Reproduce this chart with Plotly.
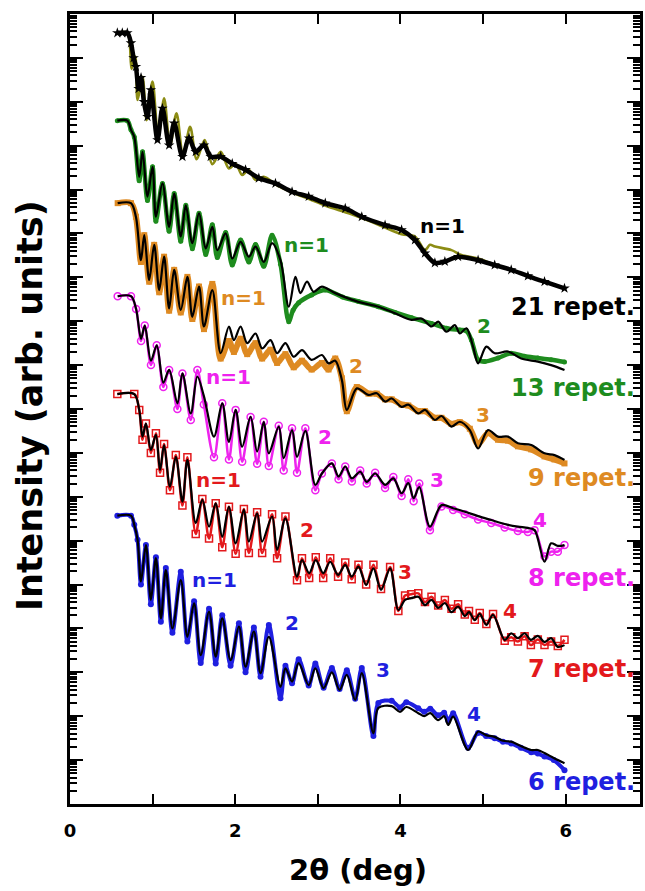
import numpy as np
import plotly.graph_objects as go

# ---- data (x in degrees 2theta, y as log10 of intensity, arbitrary offsets) ----
# 21 repetitions
r21_fit_x = [0.577,0.697,0.725,0.745,0.790,0.818,0.878,0.927,0.999,1.068,1.139,1.212,1.289,1.369,1.454,1.534,1.630,1.723,1.824,1.924,2.005,2.084,2.165,2.246,2.346,2.500,2.684,2.900,3.094,3.400,3.733,4.014,4.176,4.297,4.357,4.418,4.618,4.738,4.940,5.141,5.341,5.543,5.744,5.986]
r21_fit_y = [17.57,17.57,17.30,16.75,17.03,16.04,16.57,15.58,16.46,15.17,16.08,15.01,15.74,14.79,15.43,14.69,15.13,14.58,14.86,14.48,14.59,14.33,14.45,14.22,14.29,14.10,13.94,13.78,13.63,13.44,13.20,12.98,12.93,12.62,12.74,12.70,12.62,12.51,12.43,12.28,12.17,12.03,11.90,11.75]
r21_dat_x = [0.573,0.633,0.694,0.738,0.770,0.798,0.830,0.860,0.895,0.938,0.979,1.059,1.119,1.200,1.261,1.361,1.441,1.522,1.622,1.703,1.824,1.964,2.125,2.286,2.487,2.688,2.889,3.090,3.332,3.532,3.814,4.014,4.176,4.297,4.417,4.538,4.698,4.940,5.141,5.341,5.543,5.744,5.986]
r21_dat_y = [17.57,17.57,17.57,17.34,17.00,16.80,16.30,16.55,16.00,15.66,16.27,15.13,15.85,15.01,15.51,14.75,15.17,14.86,15.01,14.75,14.75,14.59,14.45,14.26,14.14,13.95,13.84,13.69,13.57,13.38,13.19,13.08,12.85,12.55,12.33,12.36,12.47,12.39,12.28,12.17,12.03,11.90,11.75]

# 13 repetitions
r13_fit_x = [0.573,0.694,0.738,0.778,0.838,0.878,0.938,0.999,1.040,1.119,1.200,1.261,1.341,1.402,1.481,1.562,1.643,1.723,1.783,1.884,1.964,2.065,2.165,2.246,2.346,2.446,2.548,2.648,2.729,2.789,2.869,2.949,3.049,3.211,3.492,3.733,3.935,4.135,4.256,4.376,4.457,4.557,4.659,4.719,4.799,4.879,4.940,5.040,5.141,5.302,5.462,5.663,5.824,5.986]
r13_fit_y = [15.57,15.57,15.36,15.20,14.29,14.86,13.84,14.52,13.38,14.14,13.15,13.91,12.93,13.64,12.78,13.46,12.66,13.15,12.62,13.00,12.43,12.81,12.47,12.70,12.35,12.78,12.39,11.33,12.01,11.64,11.90,11.67,11.79,11.64,11.44,11.33,11.18,11.03,11.06,10.88,10.99,10.76,10.91,10.72,10.84,10.42,10.04,10.42,10.27,10.31,10.15,10.08,10.00,9.89]
r13_dat_x = [0.573,0.694,0.738,0.778,0.838,0.878,0.938,0.999,1.040,1.119,1.200,1.261,1.341,1.402,1.481,1.562,1.643,1.723,1.783,1.884,1.964,2.065,2.165,2.246,2.346,2.446,2.548,2.648,2.700,2.768,2.925,3.090,3.300,3.492,3.733,3.935,4.135,4.376,4.557,4.719,4.799,4.859,4.940,5.020,5.181,5.341,5.500,5.663,5.824,5.986]
r13_dat_y = [15.57,15.57,15.36,15.20,14.20,14.86,13.75,14.52,13.28,14.14,13.05,13.91,12.82,13.64,12.65,13.46,12.52,13.20,12.45,13.02,12.28,12.85,12.35,12.75,12.25,12.96,12.30,10.99,11.25,11.42,11.60,11.71,11.55,11.45,11.33,11.20,11.08,10.95,10.84,10.80,10.78,10.57,10.12,10.08,10.16,10.27,10.20,10.16,10.12,10.07]

# 9 repetitions
r9_x = [0.577,0.738,0.798,0.859,0.899,0.959,1.019,1.080,1.139,1.200,1.261,1.341,1.421,1.481,1.562,1.622,1.723,1.824,1.924,1.984,2.065,2.145,2.246,2.326,2.427,2.507,2.608,2.708,2.808,2.925,3.049,3.130,3.211,3.291,3.351,3.472,3.613,3.713,3.814,3.894,4.014,4.095,4.216,4.297,4.417,4.497,4.618,4.719,4.840,4.940,5.060,5.181,5.302,5.422,5.583,5.744,5.865,5.986]
r9_fit_y = [13.69,13.69,13.38,12.39,12.96,11.94,12.74,11.71,12.47,11.29,12.17,11.26,12.01,11.10,11.79,10.88,11.71,10.27,10.88,10.57,10.88,10.50,10.72,10.38,10.57,10.27,10.50,10.19,10.34,10.12,10.23,10.04,10.10,9.66,8.98,9.47,9.32,9.36,9.17,9.24,9.05,9.10,8.90,8.98,8.75,8.84,8.60,8.71,8.52,8.10,8.52,8.37,8.37,8.22,8.18,7.99,7.95,7.84]
r9_dat_y = [13.69,13.69,13.38,12.35,12.96,11.90,12.74,11.66,12.47,11.24,12.17,11.20,12.01,11.05,11.79,10.82,11.85,10.15,10.55,10.30,10.60,10.25,10.50,10.15,10.35,10.05,10.25,9.95,10.10,9.90,10.05,9.90,10.15,9.70,8.95,9.50,9.35,9.35,9.22,9.22,9.10,9.08,8.95,8.95,8.80,8.80,8.66,8.70,8.55,8.20,8.45,8.30,8.28,8.15,8.08,7.92,7.85,7.76]

# 8 repetitions
r8_x = [0.577,0.738,0.800,0.860,0.905,0.980,1.050,1.130,1.200,1.300,1.361,1.462,1.542,1.620,1.743,1.843,1.924,2.005,2.084,2.186,2.265,2.346,2.407,2.527,2.587,2.688,2.748,2.849,2.970,3.049,3.170,3.251,3.332,3.412,3.513,3.592,3.694,3.814,3.914,4.014,4.095,4.160,4.228,4.357,4.497,4.638,4.779,4.940,5.100,5.262,5.422,5.543,5.624,5.744,5.824,5.905,5.986]
r8_fit_y = [11.57,11.57,11.28,10.60,10.90,10.10,10.45,9.60,9.89,9.13,9.81,8.90,9.74,9.30,8.37,9.13,8.25,8.98,8.14,8.82,8.03,8.71,7.99,8.60,7.88,8.52,7.91,8.50,7.27,7.53,7.76,7.46,7.69,7.42,7.57,7.34,7.53,7.27,7.42,7.08,7.31,6.97,7.22,6.32,6.81,6.74,6.66,6.56,6.47,6.38,6.32,6.29,6.24,5.52,5.94,5.88,5.90]
r8_dat_y = [11.57,11.57,11.28,10.55,10.90,10.00,10.45,9.50,9.89,9.00,9.81,8.75,9.89,9.10,7.90,9.13,7.85,8.98,7.80,8.82,7.75,8.71,7.70,8.62,7.60,8.56,7.55,8.56,7.15,7.53,7.76,7.40,7.69,7.35,7.60,7.30,7.55,7.20,7.45,7.02,7.40,6.90,7.30,6.24,6.78,6.70,6.60,6.48,6.40,6.30,6.22,6.20,6.24,5.64,5.75,5.75,5.90]

# 7 repetitions
r7_x = [0.573,0.778,0.838,0.878,0.919,0.979,1.040,1.090,1.139,1.210,1.281,1.361,1.421,1.522,1.602,1.683,1.764,1.843,1.924,2.005,2.105,2.165,2.265,2.326,2.446,2.507,2.608,2.748,2.808,2.895,2.975,3.065,3.150,3.245,3.332,3.410,3.492,3.585,3.673,3.765,3.875,3.975,4.056,4.131,4.216,4.297,4.376,4.457,4.538,4.618,4.698,4.779,4.830,4.900,4.960,5.040,5.121,5.262,5.341,5.422,5.503,5.579,5.663,5.744,5.824,5.905,5.986]
r7_fit_y = [9.34,9.34,8.98,8.37,8.67,8.07,8.41,7.61,8.18,7.23,7.91,6.89,7.84,6.40,6.93,6.32,6.85,6.09,6.77,5.94,6.70,5.98,6.62,5.98,6.55,5.79,6.51,5.18,5.56,5.26,5.56,5.26,5.52,5.22,5.45,5.18,5.41,4.99,5.37,4.88,5.37,4.42,4.65,4.69,4.72,4.53,4.65,4.47,4.58,4.37,4.50,4.28,4.37,4.19,4.33,4.08,4.31,3.74,3.89,3.78,3.89,3.74,3.83,3.69,3.78,3.58,3.62]
r7_dat_y = [9.34,9.34,8.98,8.30,8.67,8.00,8.45,7.55,8.20,7.15,7.95,6.80,7.90,6.15,6.95,6.05,6.85,5.85,6.77,5.70,6.72,5.72,6.65,5.72,6.60,5.60,6.55,5.10,5.60,5.15,5.62,5.15,5.60,5.18,5.50,5.12,5.45,5.00,5.45,4.90,5.40,4.40,4.75,4.78,4.80,4.60,4.72,4.52,4.65,4.45,4.55,4.32,4.40,4.20,4.35,4.10,4.33,3.72,3.80,3.70,3.82,3.62,3.75,3.62,3.70,3.60,3.74]

# 6 repetitions
r6_x = [0.573,0.738,0.778,0.818,0.859,0.919,0.979,1.040,1.100,1.160,1.240,1.341,1.421,1.502,1.582,1.683,1.764,1.843,1.944,2.045,2.125,2.226,2.306,2.407,2.548,2.608,2.688,2.768,2.889,2.970,3.070,3.170,3.263,3.351,3.452,3.532,3.673,3.733,3.894,3.995,4.071,4.216,4.288,4.361,4.457,4.529,4.578,4.638,4.819,4.940,5.036,5.141,5.241,5.341,5.458,5.583,5.663,5.744,5.856,5.986]
r6_fit_y = [6.57,6.57,6.36,6.02,5.07,5.90,4.65,5.60,4.23,5.33,4.00,5.10,3.81,4.57,3.39,4.38,3.36,4.23,3.28,4.04,3.13,3.93,2.98,3.81,2.67,3.09,2.79,3.21,2.71,3.09,2.64,3.00,2.60,2.94,2.37,2.98,1.61,2.19,2.23,2.10,2.21,2.07,2.00,2.07,1.91,2.00,1.80,1.99,1.23,1.65,1.57,1.53,1.44,1.42,1.32,1.23,1.23,1.16,1.05,0.93]
r6_dat_y = [6.57,6.57,6.36,6.02,5.00,5.90,4.55,5.62,4.15,5.38,3.90,5.29,3.70,4.62,3.21,4.45,3.20,4.30,3.15,4.12,3.00,4.02,2.90,4.08,2.41,3.15,2.75,3.30,2.70,3.20,2.65,3.10,2.62,3.05,2.40,3.10,1.55,2.30,2.35,2.20,2.32,2.18,2.10,2.17,2.02,2.08,1.90,2.07,1.28,1.62,1.55,1.50,1.42,1.38,1.28,1.18,1.15,1.08,1.00,0.77]

# labels: (text, x, log10 y, color)
peak_labels = [
    ("n=1", 4.51, 13.17, "black"),
    ("n=1", 2.865, 12.74, "#1E8C1E"), ("2", 5.012, 10.89, "#1E8C1E"),
    ("n=1", 2.105, 11.53, "#DE8A22"), ("2", 3.456, 9.98, "#DE8A22"), ("3", 5.00, 8.86, "#DE8A22"),
    ("n=1", 1.924, 9.73, "#EE22EE"), ("2", 3.082, 8.36, "#EE22EE"), ("3", 4.445, 7.38, "#EE22EE"), ("4", 5.688, 6.47, "#EE22EE"),
    ("n=1", 1.803, 7.38, "#E3191C"), ("2", 2.865, 6.24, "#E3191C"), ("3", 4.059, 5.29, "#E3191C"), ("4", 5.326, 4.40, "#E3191C"),
    ("n=1", 1.755, 5.10, "#1F1FE0"), ("2", 2.684, 4.12, "#1F1FE0"), ("3", 3.794, 3.05, "#1F1FE0"), ("4", 4.891, 2.05, "#1F1FE0"),
]
sample_labels = [
    ("21 repet.", 11.32, "black"), ("13 repet.", 9.48, "#1E8C1E"), ("9 repet.", 7.43, "#DE8A22"),
    ("8 repet.", 5.15, "#EE22EE"), ("7 repet.", 3.08, "#E3191C"), ("6 repet.", 0.50, "#1F1FE0"),
]

# y-axis tick positions (decades) and minor positions (2..9 within each decade)
decades = list(range(0, 19))
minor_vals = [k * 10.0 ** n for n in range(0, 18) for k in range(2, 10)]

def p(v):
    return 10 ** np.array(v)

fig = go.Figure()
FONT = "DejaVu Sans"

def data_trace(x, y, color, symbol, size, lw, mline=None):
    marker = dict(symbol=symbol, size=size, color=color)
    if mline:
        marker["line"] = dict(color=color, width=mline)
    fig.add_trace(go.Scatter(x=x, y=p(y), mode="lines+markers",
                             line=dict(color=color, width=lw, shape="spline", smoothing=0.9),
                             marker=marker, showlegend=False, hoverinfo="skip"))

def fit_trace(x, y, color="black", w=2.2):
    fig.add_trace(go.Scatter(x=x, y=p(y), mode="lines",
                             line=dict(color=color, width=w, shape="spline", smoothing=0.9),
                             showlegend=False, hoverinfo="skip"))

# 21
fit_trace(r21_fit_x, r21_fit_y, color="#8C8C14", w=2.6)
data_trace(r21_dat_x, r21_dat_y, "black", "star", 8, 4.5)
# 13
data_trace(r13_dat_x, r13_dat_y, "#1E8C1E", "circle", 5, 4.5)
fit_trace(r13_fit_x, r13_fit_y)
# 9
data_trace(r9_x, r9_dat_y, "#DE8A22", "square", 6, 6)
fit_trace(r9_x, r9_fit_y)
# 8
data_trace(r8_x, r8_dat_y, "#EE22EE", "circle-open", 7, 2.5, mline=1.5)
fit_trace(r8_x, r8_fit_y)
# 7
data_trace(r7_x, r7_dat_y, "#E3191C", "square-open", 7, 2.5, mline=1.5)
fit_trace(r7_x, r7_fit_y)
# 6
data_trace(r6_x, r6_dat_y, "#1F1FE0", "circle", 6, 4)
fit_trace(r6_x, r6_fit_y)

# an invisible trace bound to the overlay axis so it is laid out
fig.add_trace(go.Scatter(x=r6_x[:1], y=p(r6_fit_y[:1]), yaxis="y2", mode="markers",
                         marker=dict(opacity=0), showlegend=False, hoverinfo="skip"))

ann = []
for t, x, y, c in peak_labels:
    ann.append(dict(text=t, x=x, y=y, xref="x", yref="y", showarrow=False,
                    font=dict(family=FONT, size=20, color=c, weight="bold"),
                    xanchor="center", yanchor="middle"))
for t, y, c in sample_labels:
    ann.append(dict(text=t, x=6.86, y=y, xref="x", yref="y", showarrow=False,
                    font=dict(family=FONT, size=24, color=c, weight="bold"),
                    xanchor="right", yanchor="middle"))
ann.append(dict(text="Intensity (arb. units)", x=-0.0698, y=0.504, xref="paper", yref="paper",
                showarrow=False, textangle=-90, xanchor="center", yanchor="middle",
                font=dict(family=FONT, size=35, color="black", weight="bold")))
ann.append(dict(text="2θ (deg)", x=0.506, y=-0.084, xref="paper", yref="paper",
                showarrow=False, xanchor="center", yanchor="middle",
                font=dict(family=FONT, size=29, color="black", weight="bold")))

fig.update_layout(
    width=645, height=891, autosize=False,
    margin=dict(l=70, r=2, t=14, b=87),
    plot_bgcolor="white", paper_bgcolor="white",
    showlegend=False, annotations=ann,
    xaxis=dict(range=[0, 6.9], tick0=0, dtick=2, ticks="inside", ticklen=10, tickwidth=2,
               tickcolor="black", showline=True, linewidth=3, linecolor="black",
               mirror="allticks", showgrid=False, zeroline=False,
               tickfont=dict(family=FONT, size=18, color="black", weight="bold"),
               ticklabelstandoff=8,
               minor=dict(dtick=1, ticks="inside", ticklen=6, tickwidth=2, tickcolor="black", showgrid=False)),
    yaxis=dict(type="log", range=[0, 18], tickmode="array", tickvals=[10.0 ** d for d in decades],
               ticks="inside", ticklen=13, tickwidth=2,
               tickcolor="black", showline=True, linewidth=3, linecolor="black",
               mirror="allticks", showgrid=False, zeroline=False, showticklabels=False),
    yaxis2=dict(type="log", range=[0, 18], overlaying="y", side="left", anchor="x",
                tickmode="array", tickvals=minor_vals, ticks="inside", ticklen=7, tickwidth=1.5,
                tickcolor="black", showline=False, mirror="allticks", showgrid=False,
                zeroline=False, showticklabels=False),
)

fig.write_html("out.html")
